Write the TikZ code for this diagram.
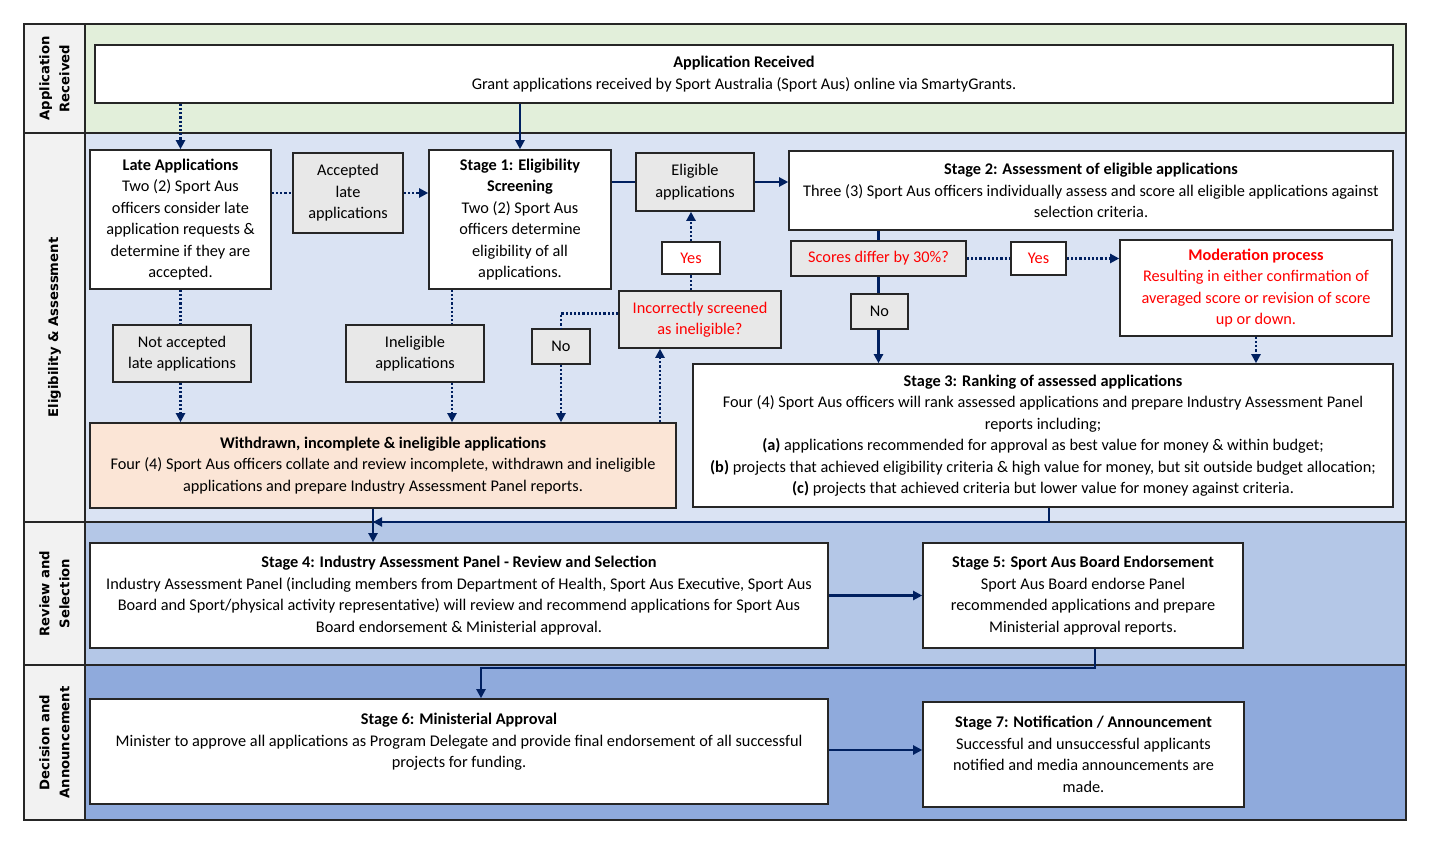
\documentclass[tikz,border=0pt]{standalone}
\usepackage{fontspec}
\setmainfont{Carlito}
\newfontfamily\lanefont{DejaVu Sans}
\usetikzlibrary{arrows.meta,calc}
\definecolor{lanegreen}{HTML}{E2EFDA}
\definecolor{laneblueA}{HTML}{DAE3F3}
\definecolor{laneblueB}{HTML}{B4C7E7}
\definecolor{laneblueC}{HTML}{8FAADC}
\definecolor{labelgray}{HTML}{F2F2F2}
\definecolor{boxgray}{HTML}{E8E8E8}
\definecolor{peach}{HTML}{FBE5D6}
\definecolor{navy}{HTML}{002060}
\definecolor{redtxt}{HTML}{FF0000}
\definecolor{frame}{HTML}{262626}
\newcommand\bx[7]{\node[#6, minimum width={(#4-#2)*0.5pt}, minimum height={(#5-#3)*0.5pt}] (#1) at ({(#2+#4)/2},{(#3+#5)/2}) {#7};}
\begin{document}
\begin{tikzpicture}[x=0.5pt,y=-0.5pt,
  bodyf/.style={font=\fontsize{8.15}{10.75}\selectfont},
  box/.style={draw=frame, line width=0.8pt, fill=white, align=center, inner sep=1pt, bodyf},
  gbox/.style={box, fill=boxgray},
  rtext/.style={text=redtxt},
  conn/.style={draw=navy, line width=1.1pt},
  arr/.style={conn, -{Triangle[length=4.5pt,width=4.5pt]}},
  dotl/.style={conn, dash pattern=on 1.1pt off 1pt},
  darr/.style={dotl, -{Triangle[length=4.5pt,width=4.5pt]}},
  lanelab/.style={rotate=90, align=center, font=\lanefont\bfseries\fontsize{6.6}{10}\selectfont}
]
\useasboundingbox (0,0) rectangle (1431,845);
% lanes
\fill[labelgray] (24,24) rectangle (85,820);
\fill[lanegreen] (85,24) rectangle (1406,133);
\fill[laneblueA] (85,133) rectangle (1406,522);
\fill[laneblueB] (85,522) rectangle (1406,665);
\fill[laneblueC] (85,665) rectangle (1406,820);
\draw[frame, line width=0.9pt] (24,24) rectangle (1406,820);
\draw[frame, line width=0.9pt] (85,24) -- (85,820);
\draw[frame, line width=0.9pt] (24,133) -- (1406,133);
\draw[frame, line width=0.9pt] (24,522) -- (1406,522);
\draw[frame, line width=0.9pt] (24,665) -- (1406,665);
\node[lanelab] (l1) at (54.5,78.5) {Application\\Received};
\node[lanelab] (l2) at (54.5,327.5) {Eligibility \& Assessment};
\node[lanelab] (l3) at (54.5,593.5) {Review and\\Selection};
\node[lanelab] (l4) at (54.5,742.5) {Decision and\\Announcement};
% boxes
\bx{app}{95}{45}{1393}{103}{box}{\textbf{Application Received}\\Grant applications received by Sport Australia (Sport Aus) online via SmartyGrants.}
\bx{late}{90}{150}{271}{289}{box}{\textbf{Late Applications}\\Two (2) Sport Aus\\officers consider late\\application requests \&\\determine if they are\\accepted.}
\bx{acc}{293}{153}{403}{233}{gbox}{Accepted\\late\\applications}
\bx{s1}{429}{150}{611}{289}{box}{\textbf{Stage 1: Eligibility}\\\textbf{Screening}\\Two (2) Sport Aus\\officers determine\\eligibility of all\\applications.}
\bx{elig}{636}{153}{754}{211}{gbox}{Eligible\\applications}
\bx{s2}{789}{151}{1393}{230}{box}{\textbf{Stage 2: Assessment of eligible applications}\\Three (3) Sport Aus officers individually assess and score all eligible applications against\\selection criteria.}
\bx{sc}{791}{241}{966}{276}{gbox,rtext}{Scores differ by 30\%?}
\bx{yes2}{1011}{242}{1066}{275}{box,rtext}{Yes}
\bx{mod}{1120}{240}{1392}{336}{box,rtext}{\textbf{Moderation process}\\Resulting in either confirmation of\\averaged score or revision of score\\up or down.}
\bx{no2}{851}{294}{908}{329}{gbox}{No}
\bx{yes1}{662}{242}{720}{274}{box,rtext}{Yes}
\bx{inc}{619}{291}{781}{348}{gbox,rtext}{Incorrectly screened\\as ineligible?}
\bx{no1}{532}{329}{590}{364}{gbox}{No}
\bx{nacc}{113}{325}{251}{382}{gbox}{Not accepted\\late applications}
\bx{inel}{346}{325}{484}{382}{gbox}{Ineligible\\applications}
\bx{wd}{90}{423}{676}{508}{box,fill=peach}{\textbf{Withdrawn, incomplete \& ineligible applications}\\Four (4) Sport Aus officers collate and review incomplete, withdrawn and ineligible\\applications and prepare Industry Assessment Panel reports.}
\bx{s3}{693}{364}{1393}{507}{box}{\textbf{Stage 3: Ranking of assessed applications}\\Four (4) Sport Aus officers will rank assessed applications and prepare Industry Assessment Panel\\reports including;\\\textbf{(a)} applications recommended for approval as best value for money \& within budget;\\\textbf{(b)} projects that achieved eligibility criteria \& high value for money, but sit outside budget allocation;\\\textbf{(c)} projects that achieved criteria but lower value for money against criteria.}
\bx{s4}{90}{543}{828}{648}{box}{\textbf{Stage 4: Industry Assessment Panel - Review and Selection}\\Industry Assessment Panel (including members from Department of Health, Sport Aus Executive, Sport Aus\\Board and Sport/physical activity representative) will review and recommend applications for Sport Aus\\Board endorsement \& Ministerial approval.}
\bx{s5}{923}{543}{1243}{648}{box}{\textbf{Stage 5: Sport Aus Board Endorsement}\\Sport Aus Board endorse Panel\\recommended applications and prepare\\Ministerial approval reports.}
\bx{s6}{90}{699}{828}{804}{box}{\textbf{Stage 6: Ministerial Approval}\\Minister to approve all applications as Program Delegate and provide final endorsement of all successful\\projects for funding.\\\mbox{}}
\bx{s7}{923}{702}{1244}{807}{box}{\textbf{Stage 7: Notification / Announcement}\\Successful and unsuccessful applicants\\notified and media announcements are\\made.}
% helper coordinates
\coordinate (c1) at (452,300);
\coordinate (c2) at (660,400);
\coordinate (c3) at (1049,522);
\coordinate (c4) at (373,522);
\coordinate (c5) at (1095,668);
\coordinate (c6) at (481,668);
\coordinate (c7) at (870,750);
% connectors
\draw[darr] (late.north |- app.south) -- (late.north);
\draw[arr] (s1.north |- app.south) -- (s1.north);
\draw[dotl] (acc.west -| late.east) -- (acc.west);
\draw[darr] (acc.east) -- (acc.east -| s1.west);
\draw[conn] (elig.west -| s1.east) -- (elig.west);
\draw[arr] (elig.east) -- (elig.east -| s2.west);
\draw[dotl] (late.south) -- (late.south |- nacc.north);
\draw[darr] (nacc.south -| late.south) -- (late.south |- wd.north);
\draw[dotl] (s1.south -| c1) -- (inel.north -| c1);
\draw[darr] (inel.south -| c1) -- (wd.north -| c1);
\draw[darr] (wd.north -| c2) -- (inc.south -| c2);
\draw[dotl] (inc.north -| yes1.south) -- (yes1.south);
\draw[darr] (yes1.north) -- (yes1.north |- elig.south);
\draw[dotl] ([yshift=3pt]inc.west) -| (no1.north);
\draw[darr] (no1.south) -- (no1.south |- wd.north);
\draw[conn] (s2.south -| sc.north) -- (sc.north);
\draw[conn] (sc.south) -- (sc.south |- no2.north);
\draw[arr] (no2.south -| sc.south) -- (sc.south |- s3.north);
\draw[dotl] (sc.east) -- (sc.east -| yes2.west);
\draw[darr] (yes2.east) -- (yes2.east -| mod.west);
\draw[darr] (mod.south) -- (mod.south |- s3.north);
\draw[arr] (s3.south -| c3) -- (c3) -- (c4);
\draw[arr] (wd.south -| c4) -- (s4.north -| c4);
\draw[arr] (s4.east) -- (s5.west);
\draw[arr] (s5.south -| c5) -- (c5) -| (s6.north -| c6);
\draw[arr] (s6.east |- c7) -- (s7.west |- c7);
\end{tikzpicture}
\end{document}
